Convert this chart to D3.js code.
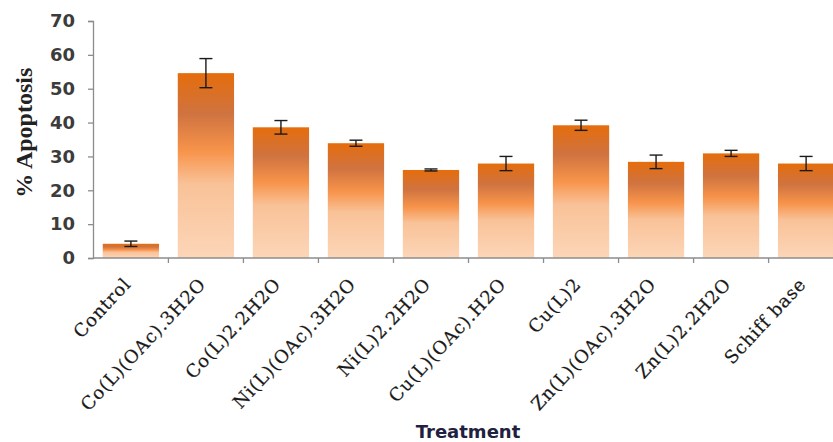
<!DOCTYPE html>
<html>
<head>
<meta charset="utf-8">
<script src="https://cdn.jsdelivr.net/npm/d3@7"></script>
<style>
  body { margin: 0; background: #fff; overflow: hidden; }
  svg { display: block; }
</style>
</head>
<body>
<div id="chart"></div>
<script>
// data
var categories = ["Control", "Co(L)(OAc).3H2O", "Co(L)2.2H2O", "Ni(L)(OAc).3H2O", "Ni(L)2.2H2O",
                  "Cu(L)(OAc).H2O", "Cu(L)2", "Zn(L)(OAc).3H2O", "Zn(L)2.2H2O", "Schiff base"];
var apoptosis = [4.2, 54.6, 38.6, 33.9, 26.0, 27.9, 39.2, 28.4, 30.9, 27.9];
var errors = [0.8, 4.3, 2.0, 0.9, 0.3, 2.1, 1.5, 2.0, 0.9, 2.1];
var yTicks = [0, 10, 20, 30, 40, 50, 60, 70];

var width = 833, height = 442;
// plot is wider than the window on purpose: the last bar is cut off in the reference
var margin = {top: 21, left: 93, bottom: 184, plotRight: 844};

var svg = d3.select("#chart").append("svg")
    .attr("width", width)
    .attr("height", height);

var defs = svg.append("defs");
var grad = defs.append("linearGradient")
    .attr("id", "barGrad")
    .attr("x1", 0).attr("y1", 0).attr("x2", 0).attr("y2", 1);
[[0, "#e56d0c"], [0.22, "#cf7340"], [0.42, "#f7934a"], [0.6, "#f9c298"], [1, "#fcd6b8"]]
  .forEach(function(s) {
    grad.append("stop").attr("offset", s[0]).attr("stop-color", s[1]);
  });

var x = d3.scaleBand()
    .domain(categories)
    .range([margin.left, margin.plotRight])
    .paddingInner(0.25)
    .paddingOuter(0.13);

var y = d3.scaleLinear()
    .domain([0, 70])
    .range([height - margin.bottom, margin.top]);

// bars
svg.selectAll("rect.bar")
    .data(apoptosis)
    .enter()
  .append("rect")
    .attr("class", "bar")
    .attr("x", function(d, i) { return x(categories[i]); })
    .attr("y", function(d) { return y(d); })
    .attr("width", x.bandwidth())
    .attr("height", function(d) { return y(0) - y(d); })
    .attr("fill", "url(#barGrad)");

// error bars
var eb = svg.selectAll("g.err")
    .data(apoptosis)
    .enter()
  .append("g")
    .attr("class", "err")
    .attr("stroke", "#1a1a1a")
    .attr("stroke-width", 1.4);
var cx = function(d, i) { return x(categories[i]) + x.bandwidth() / 2; };
eb.append("line")
    .attr("x1", cx).attr("x2", cx)
    .attr("y1", function(d, i) { return y(d + errors[i]); })
    .attr("y2", function(d, i) { return y(d - errors[i]); });
eb.append("line")
    .attr("x1", function(d, i) { return cx(d, i) - 6.5; })
    .attr("x2", function(d, i) { return cx(d, i) + 6.5; })
    .attr("y1", function(d, i) { return y(d + errors[i]); })
    .attr("y2", function(d, i) { return y(d + errors[i]); });
eb.append("line")
    .attr("x1", function(d, i) { return cx(d, i) - 6.5; })
    .attr("x2", function(d, i) { return cx(d, i) + 6.5; })
    .attr("y1", function(d, i) { return y(d - errors[i]); })
    .attr("y2", function(d, i) { return y(d - errors[i]); });

// y axis
var yAxis = svg.append("g")
    .attr("transform", "translate(" + margin.left + ",0)")
    .call(d3.axisLeft(y).tickValues(yTicks).tickSize(5).tickPadding(13));
yAxis.select(".domain").attr("stroke", "#8c8c8c").attr("stroke-width", 1.3);
yAxis.selectAll(".tick line").attr("stroke", "#8c8c8c").attr("stroke-width", 1.3);
yAxis.selectAll(".tick text")
    .attr("fill", "#3c3c3c")
    .style("font-family", "'DejaVu Sans', Verdana, sans-serif")
    .style("font-weight", "bold")
    .style("font-size", "18px");

// x axis: ticks sit on the category boundaries
var boundaries = categories.map(function(c) { return x(c) - x.step() * x.paddingInner() / 2; });
var xAxisG = svg.append("g").attr("class", "xaxis");
xAxisG.append("line")
    .attr("x1", margin.left).attr("x2", margin.plotRight)
    .attr("y1", y(0)).attr("y2", y(0))
    .attr("stroke", "#8c8c8c").attr("stroke-width", 1.3);
xAxisG.selectAll("line.tk")
    .data(boundaries.slice(1))
    .enter()
  .append("line")
    .attr("class", "tk")
    .attr("x1", function(d) { return d; }).attr("x2", function(d) { return d; })
    .attr("y1", y(0)).attr("y2", y(0) + 5)
    .attr("stroke", "#8c8c8c").attr("stroke-width", 1.3);

svg.selectAll("text.cat")
    .data(categories)
    .enter()
  .append("text")
    .attr("class", "cat")
    .attr("text-anchor", "end")
    .attr("transform", function(d) {
      return "translate(" + (x(d) + x.bandwidth() / 2 + 1) + "," + (y(0) + 27) + ") rotate(-47)";
    })
    .attr("fill", "#1a1a1a")
    .attr("stroke", "#1a1a1a")
    .attr("stroke-width", 0.2)
    .style("font-family", "'DejaVu Serif', 'Liberation Serif', serif")
    .style("font-size", "18px")
    .style("letter-spacing", "0.8px")
    .text(function(d) { return d; });

// axis titles
svg.append("text")
    .attr("transform", "translate(32," + y(37) + ") rotate(-90)")
    .attr("text-anchor", "middle")
    .attr("fill", "#222")
    .style("font-family", "'Liberation Serif', 'DejaVu Serif', serif")
    .style("font-weight", "bold")
    .style("font-size", "24px")
    .text("% Apoptosis");

svg.append("text")
    .attr("x", 468)
    .attr("y", 438)
    .attr("text-anchor", "middle")
    .attr("fill", "#1f2140")
    .style("font-family", "'DejaVu Sans', sans-serif")
    .style("font-weight", "bold")
    .style("font-size", "18px")
    .text("Treatment");
</script>
</body>
</html>
